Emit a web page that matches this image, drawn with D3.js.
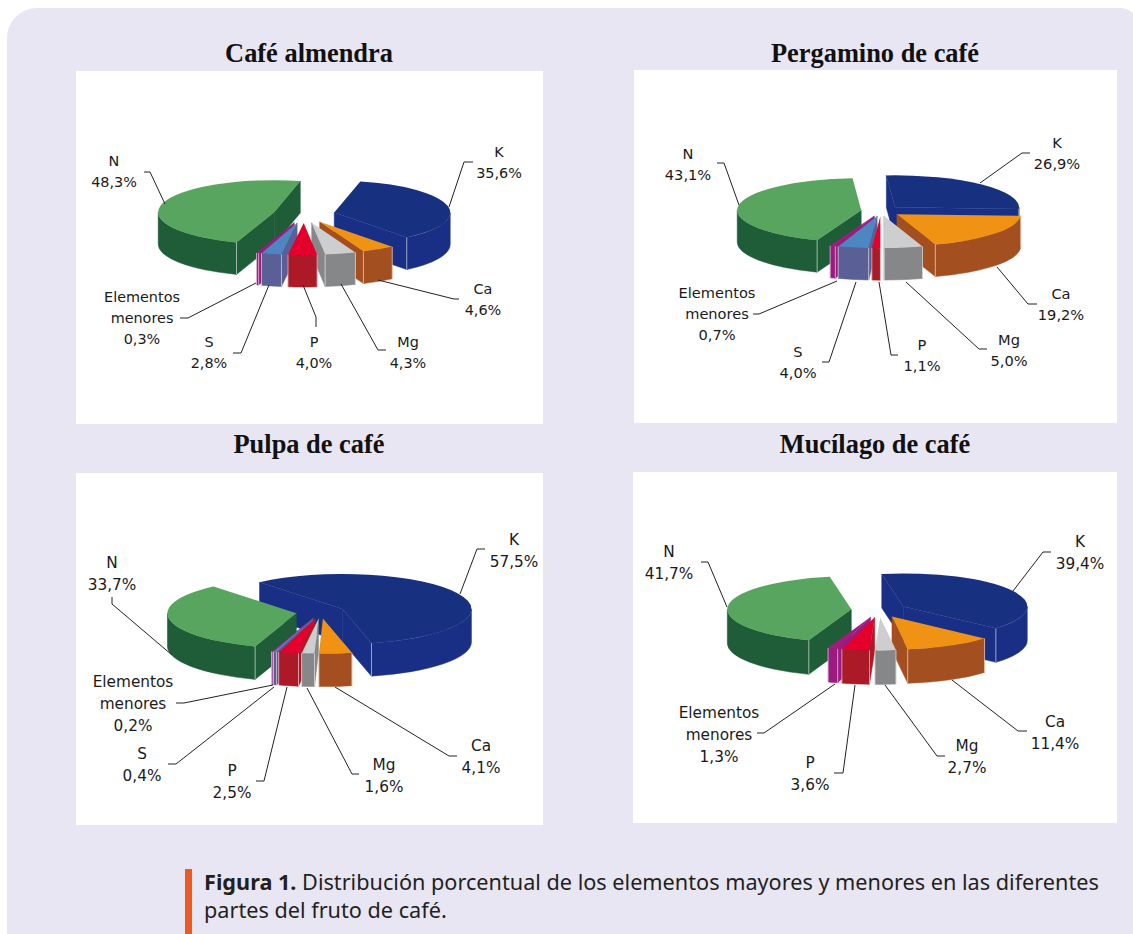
<!DOCTYPE html>
<html>
<head>
<meta charset="utf-8">
<script src="https://cdn.jsdelivr.net/npm/d3@7"></script>
<style>
  html, body { margin: 0; padding: 0; background: #fff; }
  svg { display: block; }
</style>
</head>
<body>
<svg id="chart" width="1133" height="934"></svg>
<script>
// Values, clockwise from K
const elements = ['K', 'Ca', 'Mg', 'P', 'S', 'Elementos menores', 'N'];
const elementsNoS = ['K', 'Ca', 'Mg', 'P', 'Elementos menores', 'N'];

const almendraValues = [35.6, 4.6, 4.3, 4.0, 2.8, 0.3, 48.3];
const pergaminoValues = [26.9, 19.2, 5.0, 1.1, 4.0, 0.7, 43.1];
const pulpaValues = [57.5, 4.1, 1.6, 2.5, 0.4, 0.2, 33.7];
const mucilagoValues = [39.4, 11.4, 2.7, 3.6, 1.3, 41.7];

const topColors = ['#17307f', '#f09315', '#ccced0', '#e4002b', '#4c87c1', '#a8197f', '#57a55f'];
const sideColors = ['#182f85', '#a34f20', '#868788', '#ab1a26', '#5a5f95', '#9b1a80', '#1f5c38'];

const topColor = d3.scaleOrdinal().domain(elements).range(topColors);
const sideColor = d3.scaleOrdinal().domain(elements).range(sideColors);

// label = [center x, first baseline y], leader = polyline from the label to its slice
const charts = [
  {
    title: 'Café almendra', titleX: 309, titleY: 62,
    box: [76, 71, 467, 353],
    names: elements, values: almendraValues,
    cx: 304, cy: 214.5, rx: 116, ry: 32, depth: 32, explode: 31, start: 13, font: 14.4,
    labels: {
      'K': { at: [499, 157], leader: [[473, 162], [464, 162], [449, 207]] },
      'Ca': { at: [483, 294], leader: [[459, 299], [454, 299], [378, 280]] },
      'Mg': { at: [408, 347], leader: [[386, 350], [378, 350], [341, 284]] },
      'P': { at: [314, 347], leader: [[316, 327], [316, 317], [303, 285]] },
      'S': { at: [209, 347], leader: [[233, 353], [241, 353], [269, 285]] },
      'Elementos menores': { at: [142, 302], leader: [[180, 318], [188, 318], [256, 283]] },
      'N': { at: [114, 166], leader: [[144, 172], [150, 172], [165, 204]] }
    }
  },
  {
    title: 'Pergamino de café', titleX: 875, titleY: 62,
    box: [634, 70, 483, 353],
    names: elements, values: pergaminoValues,
    cx: 881, cy: 211, rx: 124, ry: 32, depth: 32, explode: 20, start: -4, font: 14.6,
    labels: {
      'K': { at: [1057, 148], leader: [[1030, 153], [1022, 153], [980, 183]] },
      'Ca': { at: [1061, 299], leader: [[1037, 304], [1028, 304], [997, 267]] },
      'Mg': { at: [1009, 345], leader: [[987, 349], [979, 349], [906, 282]] },
      'P': { at: [922, 350], leader: [[898, 355], [891, 355], [879, 282]] },
      'S': { at: [798, 357], leader: [[822, 362], [829, 362], [856, 282]] },
      'Elementos menores': { at: [717, 298], leader: [[753, 314], [759, 314], [837, 281]] },
      'N': { at: [688, 159], leader: [[717, 163], [724, 163], [739, 205]] }
    }
  },
  {
    title: 'Pulpa de café', titleX: 309, titleY: 453,
    box: [76, 473, 467, 352],
    names: elements, values: pulpaValues,
    cx: 320.5, cy: 612, rx: 129, ry: 35, depth: 33, explode: 24.5, start: -40, font: 15.3,
    labels: {
      'K': { at: [514, 545], leader: [[485, 549], [477, 549], [460, 594]] },
      'Ca': { at: [481, 751], leader: [[457, 756], [449, 756], [335, 687]] },
      'Mg': { at: [384, 770], leader: [[359, 774], [352, 774], [307, 688]] },
      'P': { at: [232, 776], leader: [[256, 781], [264, 781], [287, 687]] },
      'S': { at: [142, 759], leader: [[168, 764], [176, 764], [274, 687]] },
      'Elementos menores': { at: [133, 687], leader: [[176, 703], [184, 703], [273, 685]] },
      'N': { at: [112, 568], leader: [[112, 597], [112, 604], [172, 655]] }
    }
  },
  {
    title: 'Mucílago de café', titleX: 875, titleY: 453,
    box: [633, 472, 484, 351],
    names: elementsNoS, values: mucilagoValues,
    cx: 879, cy: 610, rx: 124, ry: 33, depth: 34, explode: 27.8, start: -10, font: 15.3,
    labels: {
      'K': { at: [1080, 547], leader: [[1051, 552], [1043, 552], [1013, 591]] },
      'Ca': { at: [1055, 727], leader: [[1027, 731], [1018, 731], [952, 680]] },
      'Mg': { at: [967, 751], leader: [[945, 756], [937, 756], [885, 685]] },
      'P': { at: [810, 768], leader: [[834, 773], [843, 773], [855, 685]] },
      'Elementos menores': { at: [719, 718], leader: [[757, 733], [764, 733], [835, 684]] },
      'N': { at: [669, 557], leader: [[701, 562], [708, 562], [727, 607]] }
    }
  }
];

const svg = d3.select('#chart');
const pct = d3.formatLocale({ decimal: ',', thousands: '.', grouping: [3], currency: ['', ''] }).format('.1f');
const rad = deg => deg * Math.PI / 180;
const line = d3.line();

// Background panel: big round top-left corner, small cut at the top right
svg.append('path')
  .attr('d', 'M7,934 V38 A30,30 0 0 1 37,8 H1121 Q1129,9 1133,13 V934 Z')
  .attr('fill', '#e8e6f3');

charts.forEach(chart => {
  const [bx, by, bw, bh] = chart.box;
  svg.append('rect').attr('x', bx).attr('y', by).attr('width', bw).attr('height', bh).attr('fill', '#fff');

  svg.append('text')
    .attr('x', chart.titleX).attr('y', chart.titleY)
    .attr('text-anchor', 'middle')
    .attr('font-family', '"Liberation Serif", serif')
    .attr('font-weight', 'bold')
    .attr('font-size', 26.4)
    .attr('fill', '#111')
    .text(chart.title);

  drawPie(chart);
  drawLabels(chart);
});

function drawPie(chart) {
  const { cx, cy, rx, ry, depth, explode } = chart;
  const k = ry / rx;

  const pie = d3.pie().sort(null)
    .startAngle(rad(chart.start))
    .endAngle(rad(chart.start) + 2 * Math.PI);
  const arcs = pie(chart.values).map((d, i) => {
    const mid = (d.startAngle + d.endAngle) / 2;
    return {
      ...d,
      name: chart.names[i],
      mid,
      // exploded apex of the slice, on the squashed plane
      ox: cx + explode * Math.sin(mid),
      oy: cy - explode * k * Math.cos(mid)
    };
  });

  const topArc = d3.arc().innerRadius(0).outerRadius(rx);

  // Back slices first, so the front ones paint over them
  const ordered = arcs.slice().sort((a, b) => Math.cos(b.mid) - Math.cos(a.mid));

  ordered.forEach(d => {
    const g = svg.append('g').attr('class', 'slice');
    const px = a => d.ox + rx * Math.sin(a);
    const py = a => d.oy - ry * Math.cos(a);
    const side = sideColor(d.name);

    // Radial cut faces
    [[d.startAngle, Math.sin(d.startAngle) < 0], [d.endAngle, Math.sin(d.endAngle) > 0]].forEach(([a, seen]) => {
      if (!seen) return;
      g.append('path')
        .attr('d', `M${d.ox},${d.oy} L${px(a)},${py(a)} V${py(a) + depth} L${d.ox},${d.oy + depth} Z`)
        .attr('fill', side)
        .attr('stroke', side)
        .attr('stroke-width', 0.5);
    });

    // Outer wall, only the part that faces the viewer (90 to 270 degrees)
    const a0 = Math.max(d.startAngle, rad(90));
    const a1 = Math.min(d.endAngle, rad(270));
    if (a1 > a0) {
      g.append('path')
        .attr('d', `M${px(a0)},${py(a0)} A${rx},${ry} 0 0 1 ${px(a1)},${py(a1)} V${py(a1) + depth} A${rx},${ry} 0 0 0 ${px(a0)},${py(a0) + depth} Z`)
        .attr('fill', side)
        .attr('stroke', side)
        .attr('stroke-width', 0.5);
    }

    // Top face
    g.append('path')
      .attr('transform', `translate(${d.ox},${d.oy}) scale(1,${k})`)
      .attr('d', topArc(d))
      .attr('fill', topColor(d.name));

    // Pale highlight on the front vertical edges of the slice
    [d.startAngle, d.endAngle].forEach(a => {
      if (Math.cos(a) >= 0) return;
      g.append('line')
        .attr('x1', px(a)).attr('x2', px(a))
        .attr('y1', py(a)).attr('y2', py(a) + depth)
        .attr('stroke', '#fff')
        .attr('stroke-opacity', 0.55)
        .attr('stroke-width', 1);
    });
  });
}

function drawLabels(chart) {
  chart.names.forEach((name, i) => {
    const spec = chart.labels[name];
    svg.append('path')
      .attr('d', line(spec.leader))
      .attr('fill', 'none')
      .attr('stroke', '#222')
      .attr('stroke-width', 1);

    const lines = name.split(' ').concat(pct(chart.values[i]) + '%');
    const lineGap = chart.font * 1.45;
    const text = svg.append('text')
      .attr('text-anchor', 'middle')
      .attr('font-family', '"DejaVu Sans", sans-serif')
      .attr('font-size', chart.font)
      .attr('fill', '#1a1a1a');
    lines.forEach((t, j) => {
      text.append('tspan')
        .attr('x', spec.at[0])
        .attr('y', spec.at[1] + j * lineGap)
        .text(t);
    });
  });
}

// Caption
svg.append('rect').attr('x', 185).attr('y', 869).attr('width', 7).attr('height', 65).attr('fill', '#ec5a24');

const caption = svg.append('g')
  .attr('font-family', '"Noto Sans", sans-serif')
  .attr('font-size', 21.66)
  .attr('fill', '#231f20');
const cap1 = caption.append('text').attr('x', 204).attr('y', 890);
cap1.append('tspan').attr('font-weight', 'bold').text('Figura 1.');
cap1.append('tspan').text(' Distribución porcentual de los elementos mayores y menores en las diferentes');
caption.append('text').attr('x', 204).attr('y', 918).text('partes del fruto de café.');
</script>
</body>
</html>
